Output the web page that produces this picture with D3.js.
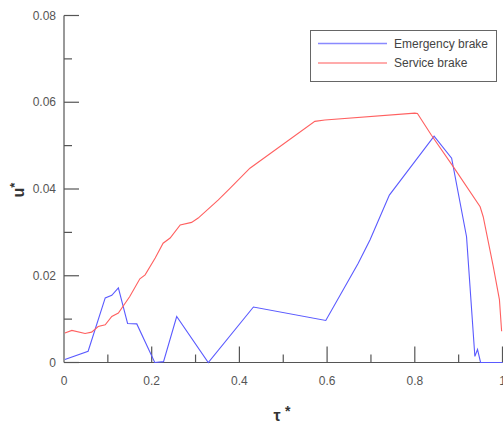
<!DOCTYPE html>
<html>
<head>
<meta charset="utf-8">
<script src="https://cdn.jsdelivr.net/npm/d3@7"></script>
<style>
  body { margin: 0; background: #fff; }
  svg { display: block; font-family: "Liberation Sans", Arial, sans-serif; }
  .tick-label { fill: #555; font-size: 12px; }
  .axis-title { fill: #333; font-size: 16px; font-weight: bold; }
  .legend-label { fill: #444; font-size: 12px; }
</style>
</head>
<body>
<svg id="chart" width="503" height="428"></svg>
<script>
// Emergency brake curve (tau*, u*)
const emergencyX = [0.002, 0.055, 0.094, 0.109, 0.124, 0.145, 0.166, 0.207, 0.227, 0.257, 0.329, 0.432,
    0.597, 0.671, 0.698, 0.742, 0.844, 0.884, 0.918, 0.937, 0.943, 0.950, 1.0];
const emergencyY = [0.0007, 0.0026, 0.0149, 0.0155, 0.0172, 0.0090, 0.0089, 0.0, 0.0002, 0.0106, 0.0, 0.0128,
    0.0097, 0.0229, 0.0283, 0.0386, 0.0522, 0.0471, 0.0290, 0.0014, 0.0030, 0.0, 0.0];

// Service brake curve
const serviceX = [0.002, 0.018, 0.048, 0.063, 0.078, 0.094, 0.109, 0.124, 0.150, 0.173, 0.185, 0.208,
    0.226, 0.242, 0.265, 0.291, 0.306, 0.352, 0.379, 0.424, 0.572, 0.595, 0.800, 0.806, 0.838,
    0.888, 0.949, 0.956, 0.979, 0.993, 0.998];
const serviceY = [0.0068, 0.0074, 0.0067, 0.0070, 0.0083, 0.0087, 0.0106, 0.0114, 0.0152, 0.0193, 0.0202, 0.0241,
    0.0275, 0.0287, 0.0317, 0.0323, 0.0333, 0.0375, 0.0402, 0.0448, 0.0556, 0.0559, 0.0575, 0.0574, 0.0524,
    0.0451, 0.0359, 0.0336, 0.0221, 0.0145, 0.0072];

const xTicks = [0, 0.2, 0.4, 0.6, 0.8, 1];
const xMinor = [0.1, 0.3, 0.5, 0.7, 0.9];
const yTicks = [0, 0.02, 0.04, 0.06, 0.08];
const yMinor = [0.01, 0.03, 0.05, 0.07];

const series = [
    { name: 'Emergency brake', xs: emergencyX, ys: emergencyY, color: '#5a5aff' },
    { name: 'Service brake', xs: serviceX, ys: serviceY, color: '#ff6060' }
];

const svg = d3.select('#chart');
const x = d3.scaleLinear().domain([0, 1]).range([64, 502.5]);
const y = d3.scaleLinear().domain([0, 0.08]).range([362.5, 15.5]);
const axisColor = '#555';

// y axis line + ticks (pointing inward)
svg.append('line')
    .attr('x1', x(0)).attr('x2', x(0))
    .attr('y1', y(0)).attr('y2', y(0.08))
    .attr('stroke', axisColor).attr('stroke-width', 1.2);
svg.selectAll('.ytick').data(yTicks).join('line')
    .attr('x1', x(0)).attr('x2', x(0) + 15)
    .attr('y1', d => y(d)).attr('y2', d => y(d))
    .attr('stroke', axisColor).attr('stroke-width', 1.2);
svg.selectAll('.yminor').data(yMinor).join('line')
    .attr('x1', x(0)).attr('x2', x(0) + 8)
    .attr('y1', d => y(d)).attr('y2', d => y(d))
    .attr('stroke', axisColor).attr('stroke-width', 1.2);
svg.selectAll('.ylabel').data(yTicks).join('text')
    .attr('class', 'tick-label')
    .attr('x', 56).attr('y', d => y(d) + 4)
    .attr('text-anchor', 'end')
    .text(d => d === 0 ? '0' : d3.format('.2f')(d));

// x axis line + ticks (pointing up)
svg.append('line')
    .attr('x1', x(0)).attr('x2', x(1))
    .attr('y1', y(0)).attr('y2', y(0))
    .attr('stroke', axisColor).attr('stroke-width', 1.2);
svg.selectAll('.xtick').data(xTicks.slice(1)).join('line')
    .attr('x1', d => x(d)).attr('x2', d => x(d))
    .attr('y1', y(0)).attr('y2', y(0) - 16)
    .attr('stroke', axisColor).attr('stroke-width', 1.2);
svg.selectAll('.xminor').data(xMinor).join('line')
    .attr('x1', d => x(d)).attr('x2', d => x(d))
    .attr('y1', y(0)).attr('y2', y(0) - 8)
    .attr('stroke', axisColor).attr('stroke-width', 1.2);
svg.selectAll('.xlabel').data(xTicks).join('text')
    .attr('class', 'tick-label')
    .attr('x', d => x(d)).attr('y', y(0) + 22)
    .attr('text-anchor', 'middle')
    .text(d => d3.format('~g')(d));

// axis titles
svg.append('text').attr('class', 'axis-title')
    .attr('transform', 'translate(24,190) rotate(-90)')
    .attr('text-anchor', 'middle')
    .html('u<tspan dy="-5" font-size="13">*</tspan>');
svg.append('text').attr('class', 'axis-title')
    .attr('x', 282).attr('y', 421)
    .attr('text-anchor', 'middle')
    .html('τ <tspan dy="-5" font-size="14">*</tspan>');

// curves
const line = d3.line().x(d => x(d[0])).y(d => y(d[1]));
series.forEach(s => {
    svg.append('path')
        .datum(d3.zip(s.xs, s.ys))
        .attr('fill', 'none')
        .attr('stroke', s.color)
        .attr('stroke-width', 1.1)
        .attr('d', line);
});

// legend
const lg = svg.append('g');
lg.append('rect')
    .attr('x', 310.5).attr('y', 30.5).attr('width', 186).attr('height', 51)
    .attr('fill', '#fff').attr('stroke', '#666').attr('stroke-width', 1);
series.forEach((s, i) => {
    const ly = 43.5 + i * 19.5;
    lg.append('line')
        .attr('x1', 318).attr('x2', 387).attr('y1', ly).attr('y2', ly)
        .attr('stroke', s.color).attr('stroke-width', 1.5).attr('opacity', 0.7);
    lg.append('text').attr('class', 'legend-label')
        .attr('x', 394).attr('y', ly + 4).text(s.name);
});
</script>
</body>
</html>
